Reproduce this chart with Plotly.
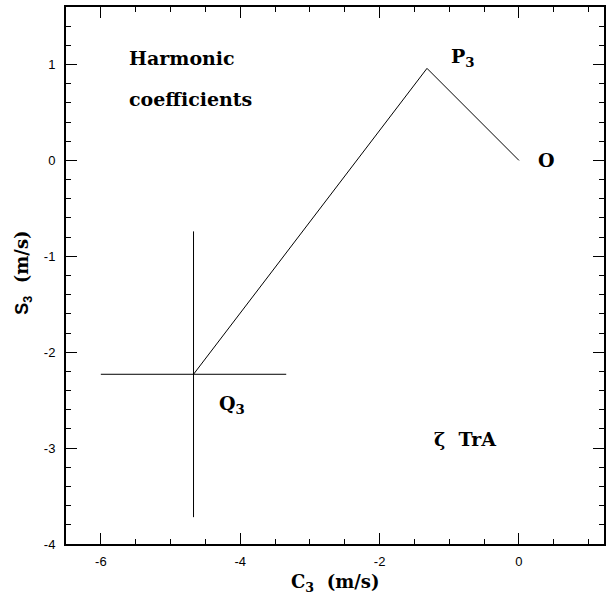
import plotly.graph_objects as go

# Data (m/s)
path_labels = ["O", "P3", "Q3"]
c3_values = [0.0, -1.32, -4.67]
s3_values = [0.0, 0.96, -2.23]

q3_c3 = [-4.67]
q3_s3 = [-2.23]
q3_c3_err = [1.33]
q3_s3_err = [1.49]

x_ticks = [-6, -4, -2, 0]
y_ticks = [-4, -3, -2, -1, 0, 1]

label_font = dict(family="DejaVu Serif", size=19, color="black", weight="bold")

fig = go.Figure()
fig.add_trace(go.Scatter(
    x=c3_values, y=s3_values, mode="lines",
    line=dict(color="black", width=1), showlegend=False, hoverinfo="skip"))
fig.add_trace(go.Scatter(
    x=q3_c3, y=q3_s3, mode="markers",
    marker=dict(size=1, color="black"),
    error_x=dict(type="data", array=q3_c3_err, color="black", thickness=1, width=0),
    error_y=dict(type="data", array=q3_s3_err, color="black", thickness=1, width=0),
    showlegend=False, hoverinfo="skip"))

annotations = [
    dict(x=-0.81, y=1.07, text="P<sub>3</sub>", xanchor="center", yanchor="middle"),
    dict(x=0.40, y=0.0, text="O", xanchor="center", yanchor="middle"),
    dict(x=-4.12, y=-2.55, text="Q<sub>3</sub>", xanchor="center", yanchor="middle"),
    dict(x=-0.78, y=-2.91, text="ζ  TrA", xanchor="center", yanchor="middle"),
    dict(x=-5.62, y=1.07, text="Harmonic", xanchor="left", yanchor="middle"),
    dict(x=-5.62, y=0.64, text="coefficients", xanchor="left", yanchor="middle"),
]
for a in annotations:
    a.update(xref="x", yref="y", showarrow=False, font=label_font)
    fig.add_annotation(**a)

title_font = dict(family="DejaVu Serif", size=18, color="black", weight="bold")
# axis titles
fig.add_annotation(x=0.5, y=-0.046, xref="paper", yref="paper",
                   text="C<sub>3</sub>  (m/s)", showarrow=False, xanchor="center", yanchor="top",
                   font=title_font)
fig.add_annotation(x=-0.08, y=0.505, xref="paper", yref="paper",
                   text="<span style='font-family:Liberation Sans'>S<sub>3</sub></span>  (m/s)",
                   showarrow=False, textangle=-90,
                   xanchor="center", yanchor="middle", font=title_font)

axis_common = dict(
    showgrid=False, zeroline=False, showline=True, linecolor="black", linewidth=2,
    mirror="ticks", ticks="inside", ticklen=11, tickwidth=1, tickcolor="black",
    tickfont=dict(family="Liberation Sans", size=13, color="black"),
)
fig.update_xaxes(range=[-6.5, 1.22], tickmode="array", tickvals=x_ticks,
                 ticktext=[str(v) for v in x_ticks], ticklabelstandoff=4,
                 minor=dict(dtick=0.5, tick0=0, ticks="inside", ticklen=5, tickcolor="black", showgrid=False),
                 **axis_common)
fig.update_yaxes(range=[-4, 1.6], tickmode="array", tickvals=y_ticks,
                 ticktext=[str(v) for v in y_ticks], ticklabelstandoff=6,
                 minor=dict(dtick=0.2, tick0=0, ticks="inside", ticklen=5, tickcolor="black", showgrid=False),
                 **axis_common)

fig.update_layout(
    width=611, height=602,
    margin=dict(l=66, r=6, t=5, b=58),
    plot_bgcolor="white", paper_bgcolor="white",
)

fig.write_html("out.html", config={"displayModeBar": False},
               post_script="document.body.style.margin='0';")
